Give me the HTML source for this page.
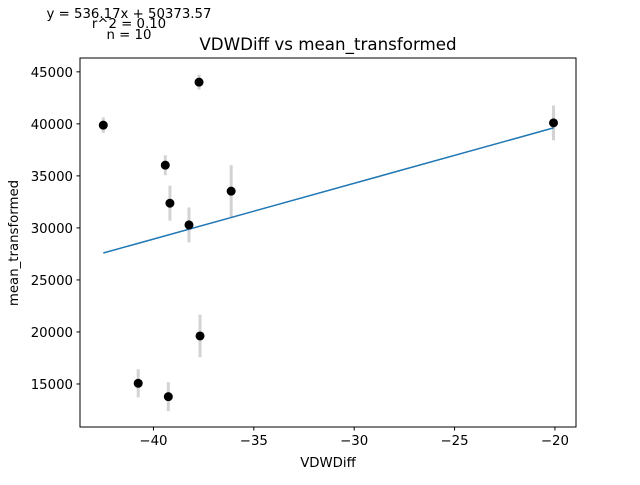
<!DOCTYPE html>
<html><head><meta charset="utf-8"><style>
body{margin:0;background:#fff}
svg text{font-family:"DejaVu Sans","Liberation Sans",sans-serif;fill:#000}
</style></head><body>
<svg id="chart" width="640" height="480">
<rect x="0" y="0" width="640" height="480" fill="#fff"/>
<g id="marks"></g>
<rect x="80" y="58" width="496" height="369" fill="none" stroke="#000" stroke-width="1"/>
<g id="axes" font-size="13.3"></g>
<text x="328" y="50" font-size="16.7" text-anchor="middle">VDWDiff vs mean_transformed</text>
<text x="328" y="467" font-size="13.3" text-anchor="middle">VDWDiff</text>
<text x="18" y="243" font-size="13.3" text-anchor="middle" transform="rotate(-90 18 243)">mean_transformed</text>
<text x="129" y="18" font-size="13.3" text-anchor="middle">y = 536.17x + 50373.57</text>
<text x="129" y="28" font-size="13.3" text-anchor="middle">r^2 = 0.10</text>
<text x="129" y="39" font-size="13.3" text-anchor="middle">n = 10</text>
</svg>
<script>
const xVals=[-42.5,-37.73,-39.41,-39.18,-36.13,-38.23,-37.68,-40.76,-39.26,-20.07];
const yVals=[39875,44010,36030,32375,33530,30290,19615,15067,13780,40095];
const yErr=[750,720,960,1680,2500,1680,2050,1350,1390,1680];
const slope=536.17, intercept=50373.57;
const xTicks=[-40,-35,-30,-25,-20];
const yTicks=[15000,20000,25000,30000,35000,40000,45000];
const X0=80,X1=576,Y0=58,Y1=427;
const xMin=-43.66,xMax=-18.95,yMin=10865,yMax=46330;
const sx=v=>X0+(v-xMin)/(xMax-xMin)*(X1-X0);
const sy=v=>Y1-(v-yMin)/(yMax-yMin)*(Y1-Y0);
const NS="http://www.w3.org/2000/svg";
const marks=document.getElementById('marks'),axes=document.getElementById('axes');
function mk(t,a,p){const e=document.createElementNS(NS,t);for(const k in a)e.setAttribute(k,a[k]);p.appendChild(e);return e;}
xVals.forEach((x,i)=>{
 const e=mk('line',{x1:sx(x),x2:sx(x),y1:sy(yVals[i]-yErr[i]),y2:sy(yVals[i]+yErr[i]),stroke:'#d3d3d3','stroke-width':3},marks);
 
 
});
const xs=Math.min(...xVals),xe=Math.max(...xVals);
const fl=mk('line',{x1:sx(xs),y1:sy(slope*xs+intercept),x2:sx(xe),y2:sy(slope*xe+intercept),stroke:'#1f77b4','stroke-width':1.5},marks);


xVals.forEach((x,i)=>{
 const c=mk('circle',{cx:sx(x),cy:sy(yVals[i]),r:4.5,fill:'#000'},marks);
 
 
});
xTicks.forEach(t=>{
 const x=sx(t);
 const l=mk('line',{x1:x,x2:x,y1:Y1,y2:Y1+3.5,stroke:'#000'},axes);
 
 
 const tx=mk('text',{x:x,y:Y1+18,'text-anchor':'middle'},axes);
 tx.textContent='\u2212'+Math.abs(t);
 
 
});
yTicks.forEach(t=>{
 const y=sy(t);
 const l=mk('line',{x1:X0-3.5,x2:X0,y1:y,y2:y,stroke:'#000'},axes);
 
 
 const tx=mk('text',{x:X0-7,y:y+5,'text-anchor':'end'},axes);
 tx.textContent=t;
 
 
});
</script>
</body></html>
